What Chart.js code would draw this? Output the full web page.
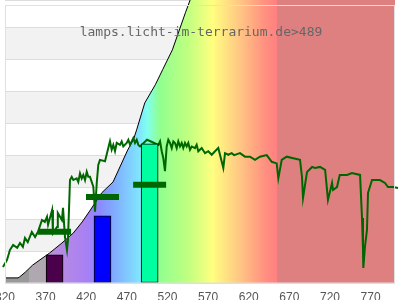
<!DOCTYPE html>
<html><head><meta charset="utf-8">
<script src="https://cdn.jsdelivr.net/npm/chart.js@4/dist/chart.umd.min.js"></script>
<style>html,body{margin:0;padding:0;background:#fff;overflow:hidden}#wrap{width:400px;height:300px;position:relative}</style>
</head><body><div id="wrap"><canvas id="c"></canvas></div>
<script>
// ---- data ----
const tickLabels = [320, 370, 420, 470, 520, 570, 620, 670, 720, 770];
const titleText = 'lamps.licht-im-terrarium.de>489';
// cumulative (black) curve that bounds the spectrum fill
const curveNm  = [320, 336, 338, 345, 354, 375, 390, 404, 415, 425, 439, 453, 471, 478, 482, 492, 505, 514, 526, 542, 548, 556, 800];
const curveVal = [1.6, 1.6, 1.9, 3.4, 5.6, 9.4, 12.5, 15.6, 19.1, 22.8, 28.2, 31.6, 41.6, 44.8, 47.9, 56.3, 62, 66.7, 72.9, 84.5, 88.6, 95, 95];
// lamp spectrum (green line)
const lampNm  = [314,317.5,322.5,326,330,335,338.5,342,344.6,348,353,357,360.6,365.5,369,371.7,373,378,379,384,385,390,391.4,393.8,396.3,397.5,
  400,402.1,404.1,408.2,410.2,412.3,414.4,416.4,418.5,420.6,422.5,424.6,428.7,430.8,432.9,434.8,436.9,443.1,447.1,
  449.2,451.3,453.3,455.4,457.5,461.5,463.6,465.6,469.8,471.8,473.9,475.9,477.9,480,482.1,484.1,486.2,494.8,501,
  508.7,510.8,512.9,514.8,516.9,519.0,521.0,523.1,525.2,527.2,529.2,531.3,533.3,535.4,537.5,539.4,541.5,543.6,545.6,547.7,549.8,553.8,555.9,557.9,
  562.1,566.2,570.2,574.4,578.5,582.5,584.6,588.7,590.8,594.8,599.0,602,609.2,615.4,621.5,627.7,633.8,642.1,648.3,654.4,656.4,660.6,666.7,674.8,683.1,
  685.5,686.8,691.7,698,701.5,707.7,714,717.5,722.5,723.7,728.6,732,741,747,757,759.4,760.6,761,763,765.5,766.8,771.7,781.5,787.7,791.4,797.5,803.7];
const lampVal = [3.1,5.0,7.2,10.3,11.9,11.0,12.5,11.3,14.1,12.8,16.0,14.4,16.0,19.7,19.1,20.7,18.2,22.8,15.6,17.5,21.9,19.7,23.5,14.4,10.3,13.5,
  32.2,33.2,32.2,32.7,31.6,34.3,32.7,33.8,32.2,34.8,33.2,33.2,30.1,22.3,31.2,36.9,38.5,38.1,42.2,
  44.3,41.7,43.2,41.2,43.8,43.2,44.3,42.7,43.8,44.8,43.2,44.3,45.3,43.8,44.8,43.2,42.7,44.8,44.1,
  43.2,44.3,41.2,39.1,35.0,42.7,44.8,43.8,42.2,44.3,43.8,42.2,44.3,42.7,43.8,42.2,43.8,42.7,43.8,41.7,42.7,42.2,43.2,41.2,
  42.2,40.6,41.2,40.1,41.2,42.2,40.1,36.0,40.6,40.1,40.6,40.0,40.6,39.5,39.5,38.5,39.5,40.0,37.9,37.4,32.7,38.5,39.5,39.0,38.5,
  33.2,26.6,34.7,36.3,36.0,36.3,35.4,26.0,31.3,29.1,30.0,33.8,33.8,34.4,33.8,20.3,10.3,4.7,11.3,16.6,28.2,32.2,32.2,31.3,30.0,30.0,29.7];
// LED bars and green markers
const ledNm = [381, 440, 498];
const ledVal = [8.8, 21.0, 43.5];
const ledColors = ['#4b004b', '#0000ff', '#00ffa0'];
const markerVal = [16.0, 26.9, 30.7];

// ---- styles ----
const yMax = 88.5;
const spectrumStops = [
  [320,'#999999'],[350,'#999999'],[350,'#b0a8b0'],[370,'#b0a8b0'],[370,'#c090d8'],
  [420,'#a880f4'],[435,'#8c88ff'],[450,'#80a4ff'],[485,'#80e4ff'],[495,'#80fff0'],
  [510,'#90ff90'],[545,'#c0ff80'],[575,'#ffff80'],[608,'#ffc884'],[640,'#ff9080'],
  [655,'#ff8080'],[655,'#df8080'],[800,'#df8080']
];

function gradientFill(context){
  const chart = context.chart;
  if (!chart.chartArea) return 'rgba(0,0,0,0)';
  const x = chart.scales.x;
  const x0 = x.getPixelForValue(320), x1 = x.getPixelForValue(800);
  const g = chart.ctx.createLinearGradient(x0, 0, x1, 0);
  spectrumStops.forEach(([nm, col]) => g.addColorStop((nm - 320) / 480, col));
  return g;
}

const stripes = {
  id: 'stripes',
  beforeDraw(chart){
    const {ctx, chartArea: a, scales: {y}} = chart;
    const t = y.ticks;
    ctx.save();
    ctx.fillStyle = '#f2f2f2';
    for (let i = 1; i < t.length - 1; i += 2) {
      const y1 = y.getPixelForValue(t[i].value), y2 = y.getPixelForValue(t[i+1].value);
      ctx.fillRect(a.left, y2, a.right - a.left, y1 - y2);
    }
    ctx.restore();
  },
  afterDraw(chart){
    const {ctx, chartArea: a} = chart;
    ctx.save();
    ctx.strokeStyle = '#e0e0e0';
    ctx.lineWidth = 1;
    ctx.strokeRect(a.left + 0.5, 5.5, a.right - a.left - 1, a.bottom - 5.5);
    ctx.font = '13px "DejaVu Sans Mono"';
    ctx.fillStyle = '#666';
    ctx.textAlign = 'center';
    ctx.textBaseline = 'alphabetic';
    ctx.fillText(titleText, 201, 36);
    ctx.restore();
  }
};

new Chart(document.getElementById('c'), {
  type: 'line',
  data: {
    datasets: [
      {
        type: 'line', order: 4,
        data: curveNm.map((v, i) => ({x: v, y: curveVal[i]})),
        borderColor: '#000', borderWidth: 1, pointRadius: 0, tension: 0,
        fill: 'origin', backgroundColor: gradientFill
      },
      {
        type: 'line', order: 3,
        data: lampNm.map((v, i) => ({x: v, y: lampVal[i]})),
        borderColor: '#006600', borderWidth: 2, pointRadius: 0, tension: 0,
        fill: false, clip: false
      },
      {
        type: 'bar', order: 2,
        data: ledNm.map((v, i) => ({x: v, y: ledVal[i]})),
        backgroundColor: ledColors, borderColor: '#000', borderWidth: 1,
        borderSkipped: false, barThickness: 17
      },
      {
        type: 'line', order: 1, showLine: false,
        data: ledNm.map((v, i) => ({x: v, y: markerVal[i]})),
        pointStyle: 'line', pointRadius: 16.5, pointBorderWidth: 6,
        borderColor: '#006600', pointBorderColor: '#006600', borderWidth: 6
      }
    ]
  },
  options: {
    responsive: true, maintainAspectRatio: false, animation: false,
    layout: {autoPadding: false, padding: {left: 5, right: 5, top: 0, bottom: 0}},
    plugins: {legend: {display: false}, tooltip: {enabled: false}},
    scales: {
      x: {
        type: 'linear', min: 320, max: 800, offset: false,
        grid: {display: false, drawTicks: false},
        border: {display: false},
        afterBuildTicks: s => { s.ticks = tickLabels.map(v => ({value: v})); },
        afterFit: s => { s.paddingLeft = 0; s.paddingRight = 0; s.height = 17; },
        ticks: {color: '#555', font: {size: 12}, padding: 7, maxRotation: 0, autoSkip: false}
      },
      y: {
        min: 0, max: yMax,
        ticks: {display: false, stepSize: 10},
        grid: {color: '#dddddd', drawTicks: false},
        border: {display: false},
        afterFit: s => { s.width = 0; }
      }
    }
  },
  plugins: [stripes]
});
</script></body></html>
